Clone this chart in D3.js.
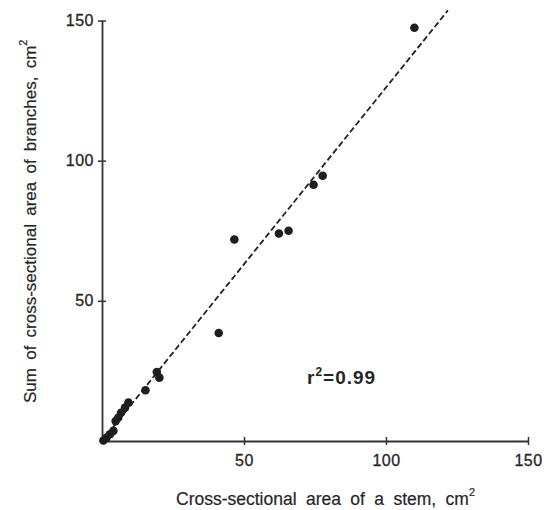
<!DOCTYPE html>
<html>
<head>
<meta charset="utf-8">
<script src="https://cdn.jsdelivr.net/npm/d3@7"></script>
<style>
  body { margin: 0; background: #fff; }
  text { font-family: "Liberation Sans", Arial, sans-serif; fill: #262626; }
</style>
</head>
<body>
<script>
// stem area vs summed branch area
var stemArea   = [110.0, 77.7, 74.5, 65.7, 62.3, 46.6, 41.1, 19.3, 20.2, 15.3, 9.3, 8.1, 6.7, 5.7, 4.8, 4.0, 2.8, 1.6, 0.5];
var branchArea = [147.4, 94.6, 91.4, 75.0, 74.0, 71.9, 38.5, 24.6, 22.6, 18.1, 13.7, 11.9, 10.1, 8.3, 7.1, 3.6, 2.4, 1.2, 0.2];
var xTicks = [50, 100, 150];
var yTicks = [50, 100, 150];
var fitLine = [[0, 0], [121.8, 153.6]];   // dashed line ends
var r2 = "0.99";

var width = 546, height = 510;
var svg = d3.select('body').append('svg').attr('width', width).attr('height', height);

var x = d3.scaleLinear().domain([0, 150]).range([102, 528]);
var y = d3.scaleLinear().domain([0, 150]).range([441, 20.5]);

// axes
var xAxis = d3.axisBottom(x).tickValues(xTicks).tickSizeOuter(0).tickSizeInner(4).tickPadding(6);
var gx = svg.append('g').attr('transform', 'translate(0,' + y(0) + ')').call(xAxis);
gx.select('.domain').attr('stroke', '#333').attr('stroke-width', 1.8);
gx.selectAll('.tick line').attr('y1', -4).attr('y2', 4).attr('stroke', '#333').attr('stroke-width', 1.5);
gx.selectAll('.tick text').attr('font-size', 16).attr('fill', '#262626')
    .attr('stroke', '#262626').attr('stroke-width', 0.3).attr('letter-spacing', 0.5)
    .attr('font-family', '"Liberation Sans", Arial, sans-serif').attr('dy', '0.95em');

var yAxis = d3.axisLeft(y).tickValues(yTicks).tickSizeOuter(0).tickSizeInner(4).tickPadding(4);
var gy = svg.append('g').attr('transform', 'translate(' + x(0) + ',0)').call(yAxis);
gy.select('.domain').attr('stroke', '#333').attr('stroke-width', 1.8);
gy.selectAll('.tick line').attr('x1', -4).attr('x2', 4).attr('stroke', '#333').attr('stroke-width', 1.5);
gy.selectAll('.tick text').attr('font-size', 16).attr('fill', '#262626')
    .attr('stroke', '#262626').attr('stroke-width', 0.3).attr('letter-spacing', 0.5)
    .attr('font-family', '"Liberation Sans", Arial, sans-serif');

// dashed fit line
var line = d3.line().x(function(d){ return x(d[0]); }).y(function(d){ return y(d[1]); });
svg.append('path')
    .attr('d', line(fitLine))
    .attr('fill', 'none')
    .attr('stroke', '#222')
    .attr('stroke-width', 1.8)
    .attr('stroke-dasharray', '6,3');

// points
svg.selectAll('circle.pt').data(stemArea).enter().append('circle')
    .attr('class', 'pt')
    .attr('cx', function(d){ return x(d); })
    .attr('cy', function(d, i){ return y(branchArea[i]); })
    .attr('r', 4.3)
    .attr('fill', '#1e1e1e');

// r2 label
var rt = svg.append('text').attr('x', 307).attr('y', 384)
    .attr('font-size', 19).attr('font-weight', 'bold').attr('letter-spacing', 1);
rt.append('tspan').text('r');
rt.append('tspan').attr('font-size', 12).attr('dy', -8).text('2');
rt.append('tspan').attr('dy', 8).text('=' + r2);

// axis titles
var xt = svg.append('text').attr('x', 176).attr('y', 505).attr('font-size', 17.5)
    .attr('word-spacing', 4.5).attr('stroke', '#262626').attr('stroke-width', 0.2);
xt.append('tspan').text('Cross-sectional area of a stem, cm');
xt.append('tspan').attr('font-size', 11).attr('dy', -9).text('2');

var yt = svg.append('text').attr('transform', 'translate(36,403) rotate(-90)')
    .attr('font-size', 17).attr('word-spacing', 3.5).attr('stroke', '#262626').attr('stroke-width', 0.2);
yt.append('tspan').text('Sum of cross-sectional area of branches, cm');
yt.append('tspan').attr('font-size', 11).attr('dy', -9).text('2');
</script>
</body>
</html>
